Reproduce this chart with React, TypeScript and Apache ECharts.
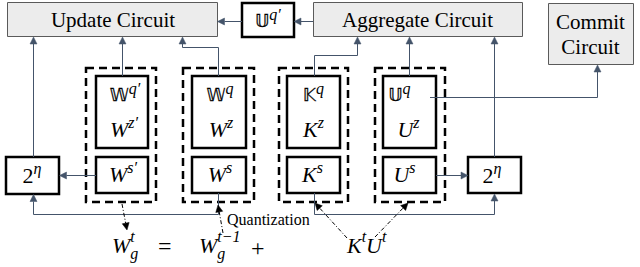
import React, { useEffect, useRef } from 'react';
import * as echarts from 'echarts';

// ---- content ----
const circuitLabels = ['Update Circuit', 'Aggregate Circuit', 'Commit\nCircuit'];
const dsLetters = ['𝕎', '𝕎', '𝕂', '𝕌'];
const dsSups = ['q′', 'q', 'q', 'q'];
const baseLetters = ['W', 'W', 'K', 'U'];
const zSups = ['z′', 'z', 'z', 'z'];
const sSups = ['s′', 's', 's', 's'];
const quantLabel = 'Quantization';
const powLabel = ['2', 'η'];

// ---- layout ----
const SERIF = 'Liberation Serif';
const DS = 'DejaVu Sans';
const LINE = '#44546a';
const groupX = [86, 183, 279, 375];
const groupW = [70, 71, 69, 70];
const innerX = [96, 192, 287, 383];
const innerW = [52, 54, 53, 53];
const qOff = [3, 1, 0, -10];
const zOff = [2, 2, 0, -1];
const sOff = [1, 1, -1, -5];

type Tok = { t: string; size: number; italic?: boolean; dy?: number; family?: string; heavy?: boolean } | { sup: Tok; sub: Tok };

let ctx: CanvasRenderingContext2D | null = null;
function fontStr(size: number, italic: boolean, family: string) {
  return `${italic ? 'italic' : 'normal'} normal ${size}px ${family}`;
}
function measure(t: string, size: number, italic: boolean, family: string) {
  if (!ctx) ctx = document.createElement('canvas').getContext('2d');
  ctx!.font = fontStr(size, italic, family);
  return ctx!.measureText(t).width;
}

function tokW(tk: any): number {
  if (tk.sup) return Math.max(tokW(tk.sup), tokW(tk.sub));
  return measure(tk.t, tk.size, !!tk.italic, tk.family || SERIF);
}

function textEl(t: string, x: number, y: number, size: number, italic: boolean, family: string, align = 'left', heavy = false) {
  return {
    type: 'text', x, y, silent: true,
    style: {
      text: t, font: fontStr(size, italic, family),
      fill: '#000',
      stroke: heavy ? '#000' : null,
      lineWidth: heavy ? 0.3 : 0,
      textAlign: align, textVerticalAlign: 'middle',
    },
  };
}

function mathRow(tokens: Tok[], x: number, y: number, center = true) {
  const total = tokens.reduce((s, tk) => s + tokW(tk), 0);
  let cx = center ? x - total / 2 : x;
  const els: any[] = [];
  const put = (tk: any, px: number) => {
    els.push(textEl(tk.t, px, y + (tk.dy || 0), tk.size, !!tk.italic, tk.family || SERIF, 'left', !!tk.heavy));
  };
  for (const tk of tokens as any[]) {
    if (tk.sup) {
      put(tk.sup, cx);
      put(tk.sub, cx);
    } else put(tk, cx);
    cx += tokW(tk);
  }
  return els;
}

const B = (t: string): Tok => ({ t, size: 22, italic: true });
const SUP = (t: string): Tok => ({ t, size: 16, italic: true, dy: -7 });
const DSL = (t: string): Tok => ({ t, size: 17, family: DS, heavy: true });

function arrow(pts: number[][], color: string, dash?: number[], headLen = 7, headW = 3.5) {
  const n = pts.length;
  const [x2, y2] = pts[n - 1];
  const [x1, y1] = pts[n - 2];
  const ang = Math.atan2(y2 - y1, x2 - x1);
  const bx = x2 - headLen * Math.cos(ang);
  const by = y2 - headLen * Math.sin(ang);
  const linePts = pts.slice(0, -1).concat([[bx, by]]);
  const px = -Math.sin(ang) * headW;
  const py = Math.cos(ang) * headW;
  return [
    { type: 'polyline', silent: true, shape: { points: linePts }, style: { stroke: color, lineWidth: 1, fill: 'none', lineDash: dash || null } },
    { type: 'polygon', silent: true, shape: { points: [[x2, y2], [bx + px, by + py], [bx - px, by - py]] }, style: { fill: color, stroke: color, lineWidth: 0.5 } },
  ];
}

function buildGraphic() {
  const els: any[] = [];
  const grayBoxes = [[7, 2, 210, 34], [313, 2, 209, 34], [548, 3, 85, 61]];
  grayBoxes.forEach(([x, y, w, h]) => {
    els.push({ type: 'rect', silent: true, shape: { x: x + 0.5, y: y + 0.5, width: w, height: h }, style: { fill: '#ececec', stroke: '#5a5a5a', lineWidth: 1 } });
  });
  els.push(textEl(circuitLabels[0], 113, 19.5, 21, false, SERIF, 'center'));
  els.push(textEl(circuitLabels[1], 417.5, 19.5, 21, false, SERIF, 'center'));
  const commit = circuitLabels[2].split('\n');
  els.push(textEl(commit[0], 590.5, 22, 21, false, SERIF, 'center'));
  els.push(textEl(commit[1], 590.5, 47, 21, false, SERIF, 'center'));

  for (let i = 0; i < 4; i++) {
    els.push({ type: 'rect', silent: true, shape: { x: groupX[i], y: 68, width: groupW[i], height: 134 }, style: { fill: 'none', stroke: '#000', lineWidth: 2.5, lineDash: [8, 5] } });
    els.push({ type: 'rect', silent: true, shape: { x: innerX[i], y: 76, width: innerW[i], height: 72 }, style: { fill: '#fff', stroke: '#000', lineWidth: 2.5 } });
    els.push({ type: 'rect', silent: true, shape: { x: innerX[i], y: 157, width: innerW[i], height: 36 }, style: { fill: '#fff', stroke: '#000', lineWidth: 2.5 } });
  }
  const thick = [[242, 3, 52, 34], [6, 157, 53, 37], [468, 157, 53, 36]];
  thick.forEach(([x, y, w, h]) => {
    els.push({ type: 'rect', silent: true, shape: { x, y, width: w, height: h }, style: { fill: '#fff', stroke: '#000', lineWidth: 2.5 } });
  });

  const conns: number[][][] = [
    [[242, 21.5], [217.5, 21.5]],
    [[313, 21.5], [294, 21.5]],
    [[33.5, 157], [33.5, 37]],
    [[122.5, 76], [122.5, 37]],
    [[218.5, 76], [218.5, 47.5], [182.5, 47.5], [182.5, 37]],
    [[314.5, 76], [314.5, 55.5], [357.5, 55.5], [357.5, 37]],
    [[409.5, 76], [409.5, 37]],
    [[494.5, 157], [494.5, 37]],
    [[430, 97.5], [597.5, 97.5], [597.5, 65]],
    [[96, 175.5], [59.5, 175.5]],
    [[436, 175.5], [468, 175.5]],
    [[218.5, 193], [218.5, 214.5], [33.5, 214.5], [33.5, 194.5]],
    [[314.5, 193], [314.5, 214.5], [494.5, 214.5], [494.5, 194]],
  ];
  conns.forEach((p) => els.push(...arrow(p, LINE)));

  const dd = [4, 2, 1, 2];
  const dashArrows: number[][][] = [
    [[122, 204], [127, 230]],
    [[223, 233], [218, 205]],
    [[347, 238], [315, 203]],
    [[375, 237], [408, 203]],
  ];
  dashArrows.forEach((p) => els.push(...arrow(p, '#000', dd, 7, 3.5)));

  for (let i = 0; i < 4; i++) {
    const cx = innerX[i] + innerW[i] / 2;
    els.push(...mathRow([DSL(dsLetters[i]), SUP(dsSups[i])], cx + qOff[i], 95));
    els.push(...mathRow([B(baseLetters[i]), SUP(zSups[i])], cx + zOff[i], 129));
    els.push(...mathRow([B(baseLetters[i]), SUP(sSups[i])], cx + sOff[i], 174));
  }
  els.push(...mathRow([DSL('𝕌'), SUP('q′')], 268, 21));
  els.push(...mathRow([{ t: powLabel[0], size: 22 }, SUP(powLabel[1])], 32, 175));
  els.push(...mathRow([{ t: powLabel[0], size: 22 }, SUP(powLabel[1])], 492, 175));

  els.push(textEl(quantLabel, 227, 219, 16, false, SERIF, 'left'));

  const fy = 245;
  const SS = (t: string): Tok => ({ t, size: 16, italic: true, dy: -8.5 });
  const SB = (t: string): Tok => ({ t, size: 16, italic: true, dy: 8 });
  els.push(...mathRow([B('W'), { sup: SS('t'), sub: SB('g') }], 112, fy, false));
  els.push(textEl('=', 158, fy + 1, 24, false, SERIF, 'left'));
  els.push(...mathRow([B('W'), { sup: SS('t−1'), sub: SB('g') }], 199, fy, false));
  els.push(textEl('+', 251, fy + 3, 24, false, SERIF, 'left'));
  els.push(...mathRow([B('K'), SS('t'), B('U'), SS('t')], 347, fy, false));
  return els;
}

export default function App() {
  const ref = useRef<HTMLDivElement>(null);
  useEffect(() => {
    if (!ref.current) return;
    const chart = echarts.init(ref.current, null, { renderer: 'svg' });
    chart.setOption({
      animation: false,
      backgroundColor: '#fff',
      graphic: { elements: buildGraphic() },
    });
    return () => chart.dispose();
  }, []);
  return <div ref={ref} style={{ position: 'fixed', left: 0, top: 0, width: 640, height: 267 }} />;
}
